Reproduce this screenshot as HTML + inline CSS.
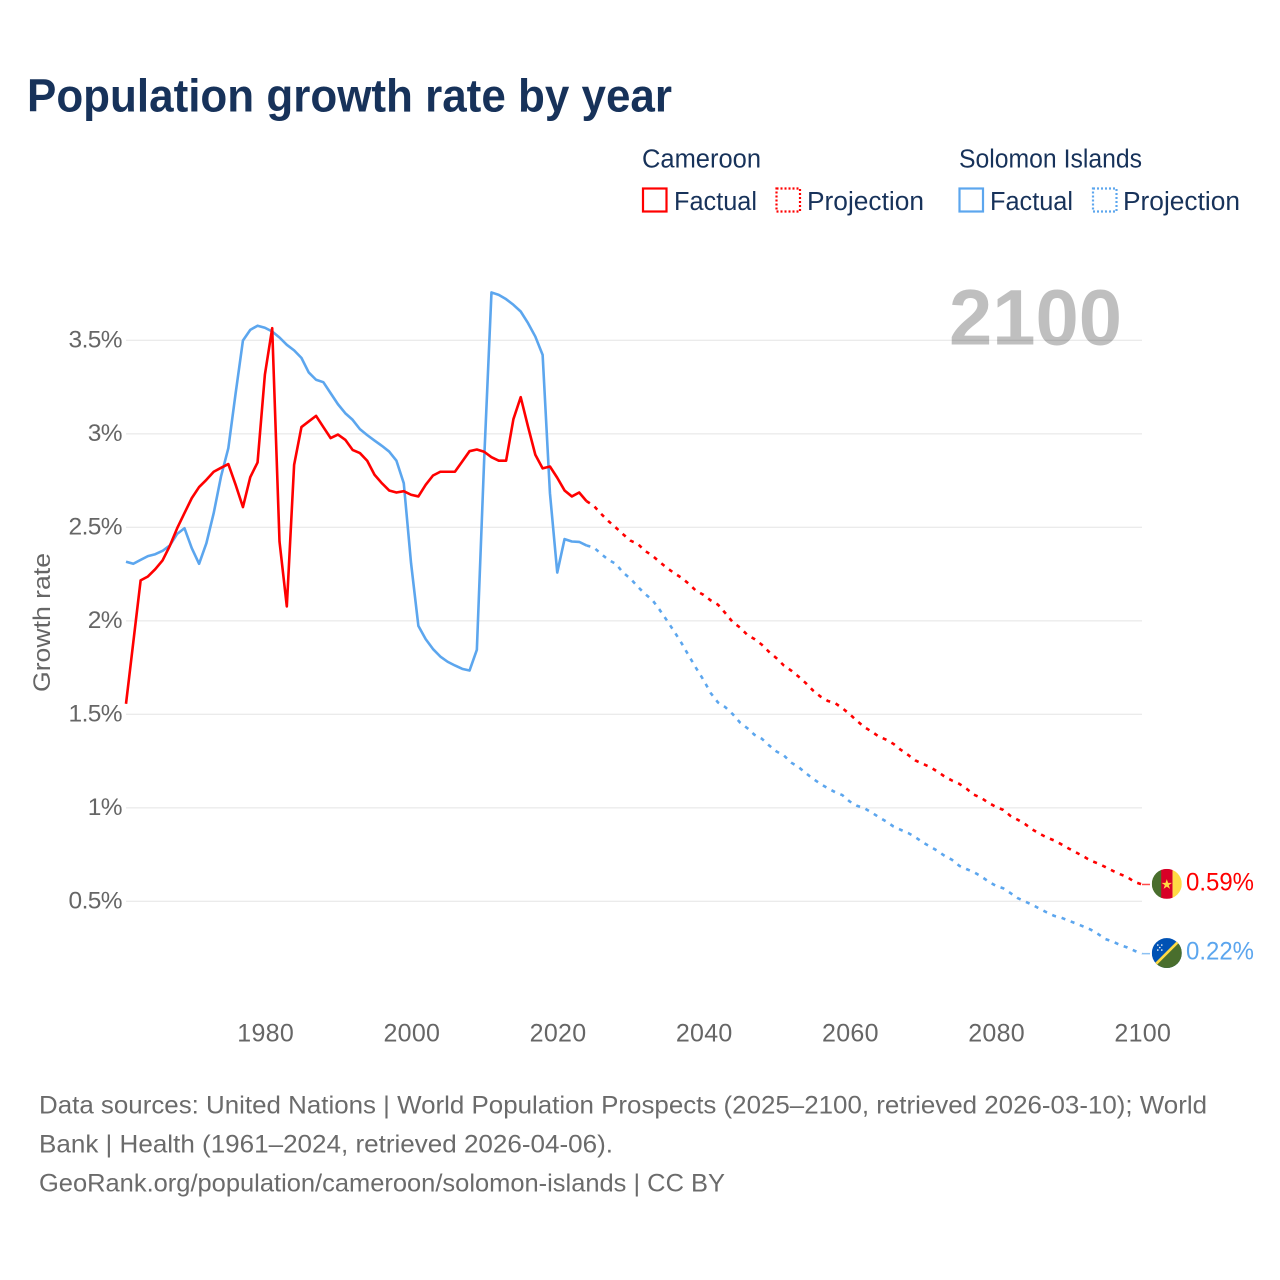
<!DOCTYPE html>
<html lang="en">
<head>
<meta charset="utf-8">
<title>Population growth rate by year</title>
<style>
html,body{margin:0;padding:0;background:#fff;width:1280px;height:1280px;overflow:hidden}
svg{display:block;font-family:"Liberation Sans",sans-serif}
</style>
</head>
<body>
<svg id="chart" xmlns="http://www.w3.org/2000/svg" width="1280" height="1280" viewBox="0 0 1280 1280">
  <defs>
    <clipPath id="flag-clip"><circle cx="0" cy="0" r="15"/></clipPath>
  </defs>
  <rect x="0" y="0" width="1280" height="1280" fill="#ffffff"/>
  <text x="27" y="111.5" font-size="46.5" font-weight="700" fill="#17325a" textLength="645" lengthAdjust="spacingAndGlyphs">Population growth rate by year</text>

  <g font-size="25.5" fill="#17325a">
    <text x="642" y="167.5" textLength="119" lengthAdjust="spacingAndGlyphs">Cameroon</text>
    <g>
      <rect x="643" y="188.5" width="23.5" height="23" fill="none" stroke="#ff0000" stroke-width="2.2"/>
      <text x="674" y="210" textLength="83" lengthAdjust="spacingAndGlyphs">Factual</text>
    </g>
    <g>
      <rect x="776.5" y="188.5" width="23.5" height="23" fill="none" stroke="#ff0000" stroke-width="2.2" stroke-dasharray="2 2"/>
      <text x="807" y="210" textLength="117" lengthAdjust="spacingAndGlyphs">Projection</text>
    </g>
    <text x="959" y="167.5" textLength="183" lengthAdjust="spacingAndGlyphs">Solomon Islands</text>
    <g>
      <rect x="959.5" y="188.5" width="23.5" height="23" fill="none" stroke="#5ca6ee" stroke-width="2.2"/>
      <text x="990" y="210" textLength="83" lengthAdjust="spacingAndGlyphs">Factual</text>
    </g>
    <g>
      <rect x="1093" y="188.5" width="23.5" height="23" fill="none" stroke="#5ca6ee" stroke-width="2.2" stroke-dasharray="2 2"/>
      <text x="1123" y="210" textLength="117" lengthAdjust="spacingAndGlyphs">Projection</text>
    </g>
  </g>

  <g id="grid"></g>
  <text x="949" y="344.5" font-size="79" font-weight="700" fill="#000000" fill-opacity="0.25" textLength="173" lengthAdjust="spacingAndGlyphs">2100</text>
  <g id="y-ticks"></g>
  <g id="x-ticks"></g>
  <text transform="translate(50 692) rotate(-90)" font-size="24.5" fill="#666666" textLength="139" lengthAdjust="spacingAndGlyphs">Growth rate</text>
  <g id="series"></g>

  <g id="flag-cameroon">
    <g clip-path="url(#flag-clip)">
      <rect x="-15" y="-15" width="10" height="30" fill="#496e2d"/>
      <rect x="-5.6" y="-15" width="11.4" height="30" fill="#d80027"/>
      <rect x="5.8" y="-15" width="9.2" height="30" fill="#ffda44"/>
      <polygon points="0,-4.8 1.3,-1 5.2,-1 2,1.3 3.2,5 0,2.7 -3.2,5 -2,1.3 -5.2,-1 -1.3,-1" fill="#ffda44"/>
    </g>
  </g>
  <g id="flag-solomon">
    <g clip-path="url(#flag-clip)">
      <rect x="-15" y="-15" width="30" height="30" fill="#0052b4"/>
      <polygon points="15,-15 15,15 -15,15" fill="#496e2d"/>
      <line x1="-15" y1="15" x2="15" y2="-15" stroke="#ffda44" stroke-width="2.6"/>
      <g fill="#ffffff">
        <circle cx="-9" cy="-8" r="0.8"/>
        <circle cx="-5" cy="-8" r="0.8"/>
        <circle cx="-7" cy="-5.5" r="0.8"/>
        <circle cx="-9" cy="-3" r="0.8"/>
        <circle cx="-5" cy="-3" r="0.8"/>
      </g>
    </g>
  </g>
  <text id="end-label-cameroon" x="1186" y="890" font-size="25" fill="#ff0000" textLength="68" lengthAdjust="spacingAndGlyphs">0.59%</text>
  <text id="end-label-solomon" x="1186" y="959" font-size="25" fill="#5ca6ee" textLength="68" lengthAdjust="spacingAndGlyphs">0.22%</text>

  <g font-size="25" fill="#6b6b6b">
    <text x="39" y="1113.3" textLength="1168" lengthAdjust="spacingAndGlyphs">Data sources: United Nations | World Population Prospects (2025–2100, retrieved 2026-03-10); World</text>
    <text x="39" y="1152.3" textLength="574" lengthAdjust="spacingAndGlyphs">Bank | Health (1961–2024, retrieved 2026-04-06).</text>
    <text x="39" y="1191.3" textLength="686" lengthAdjust="spacingAndGlyphs">GeoRank.org/population/cameroon/solomon-islands | CC BY</text>
  </g>
</svg>
<script>
const firstFactualYear = 1961;
const firstProjectionYear = 2024;
const yTickValues = [3.5, 3, 2.5, 2, 1.5, 1, 0.5];
const yTickLabels = ["3.5%", "3%", "2.5%", "2%", "1.5%", "1%", "0.5%"];
const xTickValues = [1980, 2000, 2020, 2040, 2060, 2080, 2100];
const xTickLabels = ["1980", "2000", "2020", "2040", "2060", "2080", "2100"];

const cameroonFactual = [1.556,1.886,2.216,2.237,2.276,2.323,2.401,2.495,2.576,2.656,2.715,2.754,2.797,2.818,2.838,2.727,2.608,2.768,2.847,3.316,3.565,2.424,2.077,2.834,3.036,3.066,3.096,3.036,2.977,2.996,2.968,2.914,2.897,2.856,2.781,2.736,2.697,2.686,2.693,2.674,2.665,2.727,2.777,2.797,2.797,2.797,2.852,2.907,2.916,2.904,2.875,2.856,2.856,3.078,3.196,3.039,2.888,2.815,2.825,2.765,2.697,2.665,2.686,2.64];
const cameroonProjection = [2.64,2.615,2.572,2.533,2.499,2.463,2.429,2.412,2.374,2.349,2.315,2.283,2.255,2.23,2.198,2.16,2.139,2.109,2.086,2.041,1.993,1.964,1.925,1.902,1.872,1.833,1.8,1.761,1.734,1.702,1.667,1.627,1.595,1.572,1.56,1.533,1.501,1.465,1.432,1.408,1.381,1.364,1.342,1.31,1.283,1.253,1.235,1.218,1.194,1.167,1.146,1.128,1.102,1.07,1.053,1.027,1.005,0.989,0.957,0.936,0.913,0.884,0.861,0.841,0.825,0.804,0.782,0.761,0.74,0.717,0.702,0.683,0.663,0.645,0.629,0.603,0.59];
const solomonFactual = [2.316,2.305,2.326,2.346,2.356,2.374,2.403,2.465,2.495,2.388,2.305,2.415,2.576,2.772,2.923,3.217,3.499,3.556,3.578,3.567,3.547,3.515,3.476,3.446,3.406,3.328,3.289,3.276,3.217,3.158,3.11,3.075,3.025,2.993,2.964,2.936,2.905,2.856,2.736,2.308,1.973,1.902,1.849,1.809,1.781,1.761,1.743,1.734,1.845,2.861,3.756,3.743,3.72,3.69,3.654,3.592,3.52,3.422,2.683,2.258,2.437,2.424,2.422,2.403];
const solomonProjection = [2.403,2.392,2.358,2.326,2.305,2.258,2.226,2.183,2.144,2.112,2.059,2.002,1.943,1.881,1.813,1.747,1.684,1.613,1.563,1.538,1.501,1.456,1.426,1.39,1.369,1.333,1.301,1.28,1.242,1.218,1.186,1.155,1.128,1.105,1.084,1.068,1.034,1.011,0.998,0.975,0.95,0.927,0.9,0.882,0.865,0.843,0.815,0.793,0.77,0.743,0.722,0.69,0.672,0.656,0.633,0.606,0.583,0.57,0.544,0.517,0.499,0.481,0.46,0.44,0.422,0.412,0.396,0.381,0.365,0.348,0.325,0.298,0.285,0.266,0.253,0.235,0.22];

const NS = "http://www.w3.org/2000/svg";
function xScale(year) { return 126 + (year - 1961) * (1016 / 139); }
function yScale(value) { return 994.8 - value * 187; }
function pathFrom(values, startYear) {
  return values.map(function (v, i) {
    return (i ? "L" : "M") + xScale(startYear + i).toFixed(2) + " " + yScale(v).toFixed(2);
  }).join(" ");
}

const gridLayer = document.getElementById("grid");
const yLayer = document.getElementById("y-ticks");
yTickValues.forEach(function (v, i) {
  const line = document.createElementNS(NS, "line");
  
  
  line.setAttribute("x1", 126);
  line.setAttribute("x2", 1142);
  line.setAttribute("y1", yScale(v));
  line.setAttribute("y2", yScale(v));
  line.setAttribute("stroke", "#ebebeb");
  line.setAttribute("stroke-width", "1.4");
  gridLayer.appendChild(line);
  const label = document.createElementNS(NS, "text");
  
  
  label.setAttribute("x", 122);
  label.setAttribute("y", yScale(v) + 7.2);
  label.setAttribute("text-anchor", "end");
  label.setAttribute("font-size", "24.5");
  label.setAttribute("letter-spacing", "-0.6");
  label.setAttribute("fill", "#666666");
  label.textContent = yTickLabels[i];
  yLayer.appendChild(label);
});

const xLayer = document.getElementById("x-ticks");
xTickValues.forEach(function (year, i) {
  const label = document.createElementNS(NS, "text");
  
  
  label.setAttribute("x", xScale(year) + 0.8);
  label.setAttribute("y", 1041.3);
  label.setAttribute("text-anchor", "middle");
  label.setAttribute("font-size", "25");
  label.setAttribute("letter-spacing", "0.3");
  label.setAttribute("fill", "#666666");
  label.textContent = xTickLabels[i];
  xLayer.appendChild(label);
});

const seriesLayer = document.getElementById("series");
function addLine(values, startYear, color, dashed, name) {
  const p = document.createElementNS(NS, "path");
  
  
  p.setAttribute("d", pathFrom(values, startYear));
  p.setAttribute("fill", "none");
  p.setAttribute("stroke", color);
  p.setAttribute("stroke-width", "2.6");
  p.setAttribute("stroke-linejoin", "round");
  if (dashed) {
    p.setAttribute("stroke-dasharray", "4 5.8");
  }
  seriesLayer.appendChild(p);
}
addLine(solomonFactual, firstFactualYear, "#5ca6ee", false, "solomon-islands-factual-line");
addLine(cameroonFactual, firstFactualYear, "#ff0000", false, "cameroon-factual-line");
addLine(solomonProjection, firstProjectionYear, "#5ca6ee", true, "solomon-islands-projection-line");
addLine(cameroonProjection, firstProjectionYear, "#ff0000", true, "cameroon-projection-line");

function addEndMarker(values, color, flagId, labelId, name) {
  const last = values[values.length - 1];
  const ly = yScale(last);
  const c = document.createElementNS(NS, "line");
  
  
  c.setAttribute("x1", xScale(2100));
  c.setAttribute("x2", xScale(2100) + 8);
  c.setAttribute("y1", ly);
  c.setAttribute("y2", ly);
  c.setAttribute("stroke", color);
  c.setAttribute("stroke-width", "1.5");
  c.setAttribute("stroke-opacity", "0.7");
  seriesLayer.appendChild(c);
  document.getElementById(flagId).setAttribute("transform", "translate(1166.8 " + (ly - 0.6).toFixed(2) + ")");
  const t = document.getElementById(labelId);
  t.setAttribute("y", (ly + 5.8).toFixed(2));
  t.textContent = last.toFixed(2) + "%";
}
addEndMarker(cameroonProjection, "#ff0000", "flag-cameroon", "end-label-cameroon", "cameroon-end-connector");
addEndMarker(solomonProjection, "#5ca6ee", "flag-solomon", "end-label-solomon", "solomon-islands-end-connector");
</script>
</body>
</html>
